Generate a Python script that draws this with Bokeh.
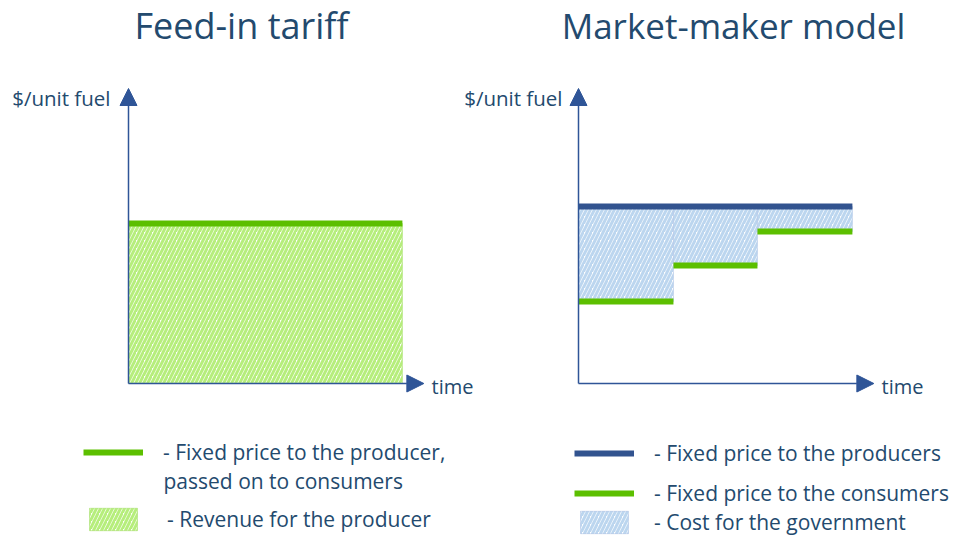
from bokeh.plotting import figure
from bokeh.models import (Range1d, Arrow, NormalHead, Label, Legend, LegendItem,
                          ColumnDataSource)
from bokeh.embed import file_html
from bokeh.resources import INLINE

# ---------------- data (schematic units: time periods, $/unit fuel) ----------------
FIT_TIME = [0.0, 3.0]                 # feed-in tariff period
FIT_PRICE = 8.0                       # fixed price to producer (= consumers)

MM_STEP_START = [0.0, 1.04, 1.96]     # market-maker periods
MM_STEP_END = [1.04, 1.96, 3.0]
MM_PRODUCER_PRICE = 8.85              # fixed price to the producers
MM_CONSUMER_PRICE = [4.1, 5.9, 7.6]   # fixed price to the consumers, per period

AXIS_TIME_MAX = 3.235
AXIS_PRICE_MAX = 14.75

TITLES = ["Feed-in tariff", "Market-maker model"]
Y_LABEL = "$/unit fuel"
X_LABEL = "time"
LEGEND_LEFT = ["- Fixed price to the producer,", "passed on to consumers",
               "- Revenue for the producer"]
LEGEND_RIGHT = ["- Fixed price to the producers", "- Fixed price to the consumers",
                "- Cost for the government"]

# ---------------- style / layout ----------------
FONT = "Open Sans"
TEXT_COLOR = "#234a6e"
AXIS_COLOR = "#2f5597"
BLUE = "#32538f"
GREEN = "#5cbf00"
GREEN_HATCH = "#b6ee7c"
BLUE_HATCH = "#bcd6ef"

W, H = 954, 536
PX_X, PX_Y = 91.3, 20.0
ORIGIN_Y = 383
LEFT_ORIGIN_X, RIGHT_ORIGIN_X = 128, 578
LEG_FONT = "21px"


def xr(origin_x):
    s = -origin_x / PX_X
    return Range1d(s, s + W / PX_X)


ys = -(H - ORIGIN_Y) / PX_Y
p = figure(width=W, height=H, output_backend="svg", toolbar_location=None,
           x_range=xr(LEFT_ORIGIN_X), y_range=Range1d(ys, ys + H / PX_Y),
           min_border=0, min_border_left=0, min_border_right=0,
           min_border_top=0, min_border_bottom=0)
p.extra_x_ranges = {"mm": xr(RIGHT_ORIGIN_X)}
p.xaxis.visible = False
p.yaxis.visible = False
p.grid.visible = False
p.outline_line_color = None
p.background_fill_color = "white"
p.border_fill_color = "white"


def add_axes(rng):
    for (x0, y0, x1, y1) in [(0, 0, 0, AXIS_PRICE_MAX), (0, 0, AXIS_TIME_MAX, 0)]:
        p.add_layout(Arrow(end=NormalHead(size=17, fill_color=AXIS_COLOR, line_color=AXIS_COLOR),
                           x_start=x0, y_start=y0, x_end=x1, y_end=y1, x_range_name=rng,
                           line_color=AXIS_COLOR, line_width=1.5))


def add_text(px, py, text, size, align="left"):
    p.add_layout(Label(x=px, y=H - py, x_units="screen", y_units="screen",
                       text=text, text_font=FONT, text_font_size=size, text_color=TEXT_COLOR,
                       text_align=align, text_baseline="middle"))


def add_legend(px, pcy, renderer, label, standoff=20):
    gh = 28
    lg = Legend(items=[LegendItem(label=label, renderers=[renderer])],
                location=(px, H - pcy - gh / 2),
                glyph_width=60, glyph_height=gh, label_standoff=standoff,
                label_text_font=FONT, label_text_font_size=LEG_FONT,
                label_text_color=TEXT_COLOR, label_height=gh,
                padding=0, margin=0, spacing=0,
                border_line_color=None, background_fill_alpha=0)
    p.add_layout(lg)


HATCH = dict(fill_color="white", hatch_pattern="/", hatch_scale=8, hatch_weight=3)

# ---------------- left: feed-in tariff ----------------
fit_area = p.quad(left=[FIT_TIME[0]], right=[FIT_TIME[1]], bottom=[0], top=[FIT_PRICE],
                  hatch_color=GREEN_HATCH, line_color="#a8e070", line_alpha=0.6, **HATCH)
fit_line = p.line(FIT_TIME, [FIT_PRICE, FIT_PRICE], line_color=GREEN, line_width=6)
add_axes("default")
add_text(241, 25, TITLES[0], "36px", align="center")
add_text(110, 97, Y_LABEL, "20.5px", align="right")
add_text(431, 386, X_LABEL, "20px")
add_legend(83, 452, fit_line, LEGEND_LEFT[0])
add_text(163, 480, LEGEND_LEFT[1], LEG_FONT)
add_legend(83, 519, fit_area, LEGEND_LEFT[2], standoff=24)

# ---------------- right: market-maker model ----------------
src = ColumnDataSource(dict(left=MM_STEP_START, right=MM_STEP_END,
                            bottom=MM_CONSUMER_PRICE,
                            top=[MM_PRODUCER_PRICE] * len(MM_CONSUMER_PRICE)))
gov = p.quad(left="left", right="right", bottom="bottom", top="top", source=src,
             x_range_name="mm", hatch_color=BLUE_HATCH, line_color="#8eaadb",
             line_alpha=0.35, **HATCH)
cons = p.segment(x0="left", x1="right", y0="bottom", y1="bottom", source=src,
                 x_range_name="mm", line_color=GREEN, line_width=6)
prod = p.line([MM_STEP_START[0], MM_STEP_END[-1]], [MM_PRODUCER_PRICE] * 2,
              x_range_name="mm", line_color=BLUE, line_width=6)
add_axes("mm")
add_text(733, 25, TITLES[1], "35px", align="center")
add_text(562, 97, Y_LABEL, "20.5px", align="right")
add_text(881, 386, X_LABEL, "20px")
add_legend(574, 453, prod, LEGEND_RIGHT[0])
add_legend(574, 493, cons, LEGEND_RIGHT[1], standoff=20)
add_legend(574, 522, gov, LEGEND_RIGHT[2])

open("out.html", "w").write(file_html(p, INLINE))
